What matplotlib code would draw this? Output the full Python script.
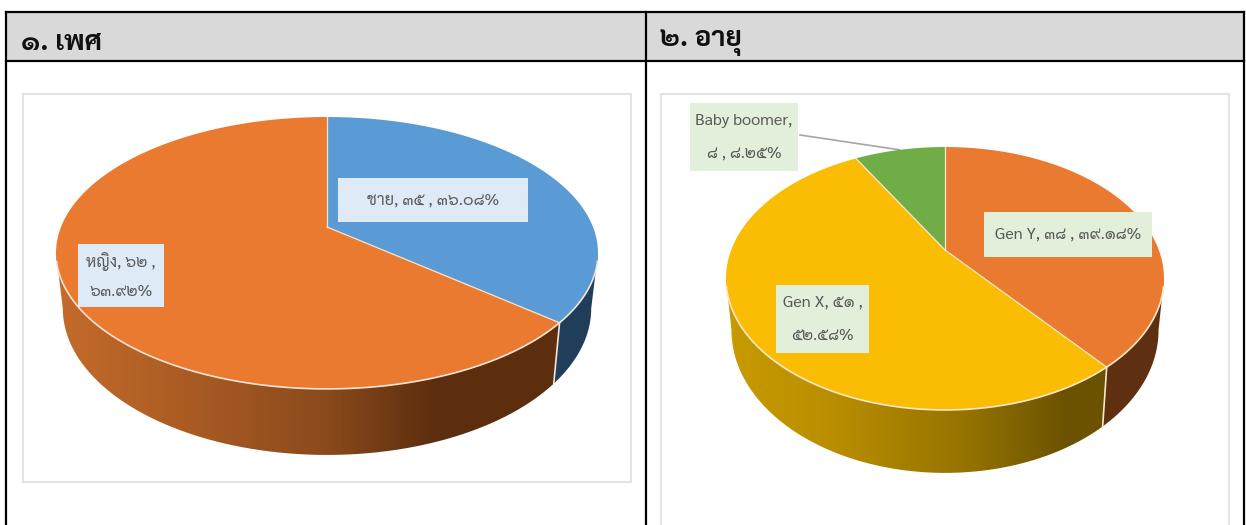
import numpy as np
import matplotlib
matplotlib.use('Agg')
import matplotlib.pyplot as plt
from matplotlib.patches import Polygon, Rectangle

plt.rcParams['font.family'] = ['Sarabun', 'Niramit', 'DejaVu Sans']

# data
titles = ['๑. เพศ', '๒. อายุ']

sex_names = ['ชาย', 'หญิง']
sex_counts = [35, 62]
sex_percents = ['36.08', '63.92']

age_names = ['Gen Y', 'Gen X', 'Baby boomer']
age_counts = [38, 51, 8]
age_percents = ['39.18', '52.58', '8.25']

THAI_DIGITS = str.maketrans('0123456789', '๐๑๒๓๔๕๖๗๘๙')


def thai(value):
    return str(value).translate(THAI_DIGITS)


def rim(phi, cx, cy, rad, a, k):
    # phi is clockwise from the back of the pie, k is the perspective strength
    t = -np.cos(phi)
    w = 1 - k * t
    return cx + rad * np.sin(phi) / w, cy + a * t / w, w


def wall_poly(p0, p1, geo):
    phi = np.linspace(p0, p1, 80)
    x, y, w = rim(phi, geo['cx'], geo['cy'], geo['rad'], geo['a'], geo['k'])
    xb = geo['cx'] + (x - geo['cx']) * 0.975
    yb = y + geo['depth'] / w
    return np.r_[np.c_[x, y], np.c_[xb, yb][::-1]]


def draw_pie(ax, counts, geo, top_colors, wall_styles):
    shares = np.array(counts) / np.sum(counts)
    edges = np.r_[0, np.cumsum(shares)] * 2 * np.pi
    front0 = np.arccos(-geo['k'])
    front1 = 2 * np.pi - front0
    rim_col = geo['rim']

    # side walls first, so the top face covers their upper edge
    for i, style in enumerate(wall_styles):
        p0, p1 = max(edges[i], front0), min(edges[i + 1], front1)
        if p0 >= p1:
            continue
        poly = Polygon(wall_poly(p0, p1, geo), closed=True, fc='none', ec='none')
        ax.add_patch(poly)
        if isinstance(style, str):
            poly.set_facecolor(style)
        else:
            xs = np.linspace(geo['cx'] - geo['rx'], geo['cx'] + geo['rx'], 400)
            rgb = np.array([matplotlib.colors.to_rgb(c) for _, c in style])
            stops = geo['cx'] - geo['rx'] + np.array([s for s, _ in style]) * 2 * geo['rx']
            img = np.stack([np.interp(xs, stops, rgb[:, j]) for j in range(3)], axis=-1)[None, :, :]
            im = ax.imshow(img, extent=(xs[0], xs[-1], 525, 0), aspect='auto', zorder=2,
                           interpolation='bilinear')
            im.set_clip_path(poly)

    # seams between the walls
    for e in edges[1:-1]:
        if front0 < e < front1:
            x, y, w = rim(e, geo['cx'], geo['cy'], geo['rad'], geo['a'], geo['k'])
            ax.plot([x, geo['cx'] + (x - geo['cx']) * 0.975], [y, y + geo['depth'] / w],
                    color=rim_col, lw=1.2, zorder=3)

    # top face, without an outline at the back
    for i, col in enumerate(top_colors):
        phi = np.linspace(edges[i], edges[i + 1], 200)
        x, y, _ = rim(phi, geo['cx'], geo['cy'], geo['rad'], geo['a'], geo['k'])
        pts = np.r_[[[geo['cx'], geo['cy']]], np.c_[x, y]]
        ax.add_patch(Polygon(pts, closed=True, fc=col, ec='none', zorder=4))

    # pale line along the front rim and between the slices
    phi = np.linspace(front0 + 0.06, front1 - 0.06, 300)
    x, y, _ = rim(phi, geo['cx'], geo['cy'], geo['rad'], geo['a'], geo['k'])
    ax.plot(x, y, color=rim_col, lw=1.2, zorder=5)
    for e in edges[:-1]:
        x, y, _ = rim(e, geo['cx'], geo['cy'], geo['rad'], geo['a'], geo['k'])
        ax.plot([geo['cx'], x], [geo['cy'], y], color=rim_col, lw=0.9, zorder=5)
    return edges


def label(ax, box, text, fill, spacing=2.7):
    x0, y0, x1, y1 = box
    ax.add_patch(Rectangle((x0, y0), x1 - x0, y1 - y0, fc=fill, ec='none', zorder=6))
    ax.text((x0 + x1) / 2, (y0 + y1) / 2, text, ha='center', va='center', fontsize=11.7,
            color='#595959', zorder=7, linespacing=spacing)


fig = plt.figure(figsize=(12.46, 5.25), dpi=100)
ax = fig.add_axes([0, 0, 1, 1])
ax.set_axis_off()

# --- table frame ---
ax.add_patch(Rectangle((6, 12), 1238, 49, fc='#D9D9D9', ec='none', zorder=0))
for xs, ys in [([6, 1244], [12, 12]), ([6, 1244], [61, 61]), ([6, 6], [12, 525]),
               ([646, 646], [12, 525]), ([1244, 1244], [12, 525])]:
    ax.plot(xs, ys, color='black', lw=1.6, zorder=1, solid_capstyle='projecting')
ax.text(21, 43, titles[0], fontsize=20, fontweight='bold', va='center', color='#111111')
ax.text(660, 43, titles[1], fontsize=20, fontweight='bold', va='center', color='#111111')

# --- chart panels ---
ax.add_patch(Rectangle((23, 94), 608, 388, fc='white', ec='#E4E4E4', lw=1.5, zorder=1))
ax.add_patch(Rectangle((661, 94), 568, 440, fc='white', ec='#E4E4E4', lw=1.5, zorder=1))

# --- left pie ---
sex_geo = dict(cx=327, cy=227, rad=266, a=131, k=0.191, rx=271, depth=53.4, rim='#F3E4D6')
orange_wall = [(0.0, '#C56B2B'), (0.25, '#A95B23'), (0.5, '#8A4A1C'), (0.7, '#5C2E0E'), (1.0, '#5C2E0E')]
draw_pie(ax, sex_counts, sex_geo, ['#5B9BD5', '#E97A30'], ['#203E5A', orange_wall])
label(ax, (338, 178, 528, 222), f'{sex_names[0]}, {thai(sex_counts[0])} , {thai(sex_percents[0])}%', '#DEEAF6')
label(ax, (78, 244, 164, 307), f'{sex_names[1]}, {thai(sex_counts[1])} ,\n{thai(sex_percents[1])}%', '#DEEAF6', spacing=2.2)

# --- right pie ---
age_geo = dict(cx=945, cy=250, rad=213.8, a=125.3, k=0.2167, rx=219, depth=49.3, rim='#F8E8C8')
yellow_wall = [(0.0, '#C99B00'), (0.25, '#B88D00'), (0.55, '#957300'), (0.78, '#6B5200'), (1.0, '#6B5200')]
edges = draw_pie(ax, age_counts, age_geo, ['#E97A30', '#FBBC04', '#70AD47'], ['#5E2F10', yellow_wall, '#3E6B23'])
label(ax, (984, 212, 1152, 257), f'{age_names[0]}, {thai(age_counts[0])} , {thai(age_percents[0])}%', '#E2EFDA')
label(ax, (776, 285, 869, 353), f'{age_names[1]}, {thai(age_counts[1])} ,\n{thai(age_percents[1])}%', '#E2EFDA')
label(ax, (690, 103, 798, 171), f'{age_names[2]},\n{thai(age_counts[2])} , {thai(age_percents[2])}%', '#E2EFDA')

# leader line of the small slice
mid = (edges[2] + edges[3]) / 2
lx, ly, _ = rim(mid, age_geo['cx'], age_geo['cy'], age_geo['rad'], age_geo['a'], age_geo['k'])
ax.plot([800, lx], [135, ly], color='#A6A6A6', lw=1.2, zorder=3)

ax.set_xlim(0, 1246)
ax.set_ylim(525, 0)
fig.savefig('out.png', dpi=100)
